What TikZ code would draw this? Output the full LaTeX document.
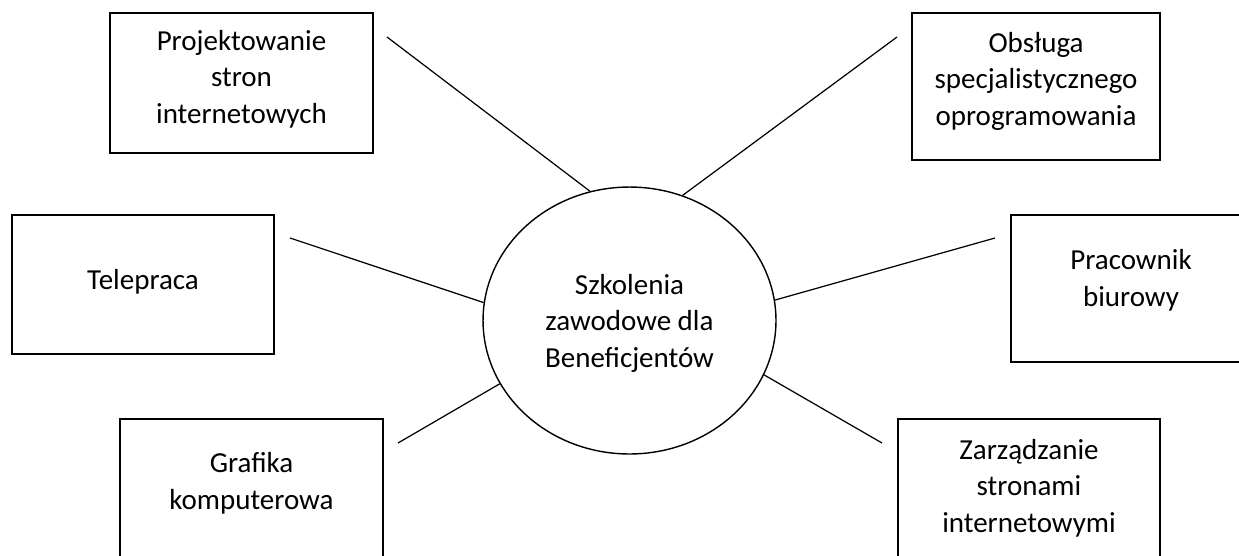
\documentclass[tikz,border=0pt]{standalone}
\usepackage{fontspec}
\setmainfont{Carlito}
\usepackage{tikz}
\usetikzlibrary{shapes.geometric}

\begin{document}
\begin{tikzpicture}[x=0.02cm,y=-0.02cm,
  box/.style={draw,line width=0.8pt,inner sep=0pt},
  txt/.style={align=center,inner sep=0pt,font=\fontsize{16.5}{20.8}\selectfont},
  hub/.style={draw,ellipse,line width=0.8pt,inner sep=0pt,
    minimum width=5.86cm,minimum height=5.34cm},
  spoke/.style={line width=0.7pt}]
  \clip (0,0) rectangle (1239,555);

  \node[hub] (szk) at (629.5,320.5) {};
  \node[txt] (szktxt) at (629.5,323)
    {Szkolenia\\zawodowe dla\\Beneficjentów};

  \node[box,minimum width=5.26cm,minimum height=2.8cm] (proj) at (241.5,83) {};
  \node[txt] (projtxt) at (241.5,79) {Projektowanie\\stron\\internetowych};

  \node[box,minimum width=4.96cm,minimum height=2.94cm] (obsl) at (1036,86.5) {};
  \node[txt] (obsltxt) at (1036,81) {Obsługa\\specjalistycznego\\oprogramowania};

  \node[box,minimum width=5.24cm,minimum height=2.78cm] (tele) at (143,284.5) {};
  \node[txt] (teletxt) at (143,282) {Telepraca};

  \node[box,minimum width=4.8cm,minimum height=2.94cm] (prac) at (1131,288.5) {};
  \node[txt] (practxt) at (1131,280) {Pracownik\\biurowy};

  \node[box,minimum width=5.26cm,minimum height=2.82cm] (graf) at (251.5,489.5) {};
  \node[txt] (graftxt) at (251.5,483.5) {Grafika\\komputerowa};

  \node[box,minimum width=5.24cm,minimum height=2.82cm] (zarz) at (1029,489.5) {};
  \node[txt] (zarztxt) at (1029,488) {Zarządzanie\\stronami\\internetowymi};

  \coordinate (projend) at (387,37);
  \coordinate (obslend) at (897,37);
  \coordinate (teleend) at (290,238);
  \coordinate (pracend) at (995,238);
  \coordinate (grafend) at (398,443);
  \coordinate (zarzend) at (882,443);

  \draw[spoke] (projend) -- (szk.107.1);
  \draw[spoke] (obslend) -- (szk.67.2);
  \draw[spoke] (teleend) -- (szk.173.2);
  \draw[spoke] (pracend) -- (szk.8.5);
  \draw[spoke] (grafend) -- (szk.206.5);
  \draw[spoke] (zarzend) -- (szk.338.3);
\end{tikzpicture}
\end{document}
